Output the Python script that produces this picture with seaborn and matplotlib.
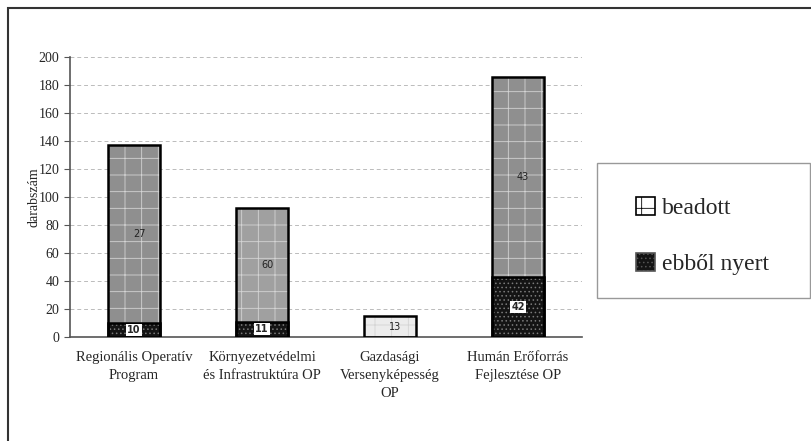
import pandas as pd
import matplotlib.pyplot as plt
import seaborn as sns
from matplotlib.patches import Rectangle, Patch

# adatok
programok = ["Regionális Operatív\nProgram",
             "Környezetvédelmi\nés Infrastruktúra OP",
             "Gazdasági\nVersenyképesség\nOP",
             "Humán Erőforrás\nFejlesztése OP"]
beadott = [137, 92, 15, 186]
nyert = [10, 11, 0, 43]
beadott_cimke = ["27", "60", "13", "43"]
nyert_cimke = ["10", "11", "", "42"]

df = pd.DataFrame({"program": programok, "beadott": beadott, "nyert": nyert})

sns.set_style("white")
plt.rcParams["font.family"] = ["Liberation Serif", "DejaVu Serif"]
plt.rcParams["hatch.linewidth"] = 0.6

fig = plt.figure(figsize=(8.11, 4.41), dpi=100)
ax = fig.add_axes([70/811, 1 - 337/441, 512/811, 280/441])

# beadott (teljes oszlop)
sns.barplot(data=df, x="program", y="beadott", hue="program", legend=False,
            palette=["#8f8f8f", "#a0a0a0", "#ececec", "#8f8f8f"],
            width=0.41, ax=ax, linewidth=0)
n_top = len(ax.patches)
for p in ax.patches:
    p.set_hatch("+")
    p.set_edgecolor("#d4d4d4")

# ebből nyert
sns.barplot(data=df, x="program", y="nyert", color="#141414",
            width=0.41, ax=ax, linewidth=0)
for p in ax.patches[n_top:]:
    p.set_hatch("....")
    p.set_edgecolor("#7a7a7a")

# fekete keret az oszlopok körül
for p in list(ax.patches):
    if p.get_height() > 0:
        ax.add_patch(Rectangle(p.get_xy(), p.get_width(), p.get_height(),
                               fill=False, ec="black", lw=1.8, zorder=3))

# cimkék
for i in range(len(programok)):
    ax.text(i + 0.04, (beadott[i] + nyert[i]) / 2, beadott_cimke[i],
            ha="center", va="center", fontsize=7, family="DejaVu Sans",
            color="#222222", zorder=4)
    if nyert_cimke[i]:
        ax.text(i, nyert[i] / 2, nyert_cimke[i], ha="center", va="center",
                fontsize=7, family="DejaVu Sans", fontweight="bold", zorder=4,
                bbox=dict(boxstyle="square,pad=0.1", fc="white", ec="none"))

ax.set_ylim(0, 200)
ax.set_xlim(-0.5, 3.5)
ax.set_yticks(range(0, 201, 20))
ax.yaxis.grid(True, ls=(0, (4, 3)), color="#bbbbbb", lw=0.7)
ax.set_axisbelow(True)
for s in ["top", "right"]:
    ax.spines[s].set_visible(False)
for s in ["left", "bottom"]:
    ax.spines[s].set_color("#555555")
    ax.spines[s].set_linewidth(1.2)

ax.set_xticks([-0.5, 0.5, 1.5, 2.5, 3.5], minor=True)
ax.tick_params(axis="x", which="major", length=0, labelsize=10.5, pad=10)
ax.tick_params(axis="x", which="minor", length=5, color="#555555", direction="out")
ax.tick_params(axis="y", length=4, color="#555555", direction="out", labelsize=10, left=True)
for t in ax.get_xticklabels():
    t.set_linespacing(1.5)
ax.set_xlabel("")
ax.set_ylabel("darabszám", fontsize=10, labelpad=-1)

# jelmagyarázat
fig.patches.append(Rectangle((597/811, 1 - 298/441), 213/811, 135/441,
                             transform=fig.transFigure, fill=False,
                             ec="#999999", lw=1))
handles = [Patch(fc="white", ec="black", hatch="+", lw=1.2, label="beadott"),
           Patch(fc="#141414", ec="#555555", hatch="....", lw=1.2, label="ebből nyert")]
fig.legend(handles=handles, loc="center left",
           bbox_to_anchor=(615/811, 1 - 236/441), frameon=False,
           fontsize=17, handlelength=0.8, handleheight=0.8,
           handletextpad=0.3, labelspacing=1.4)

# külső keret
fig.patches.append(Rectangle((8/811, -0.02), 1.0, 1 - 8/441 + 0.02,
                             transform=fig.transFigure, fill=False,
                             ec="#333333", lw=1.5))

fig.savefig("out.png", dpi=100)
